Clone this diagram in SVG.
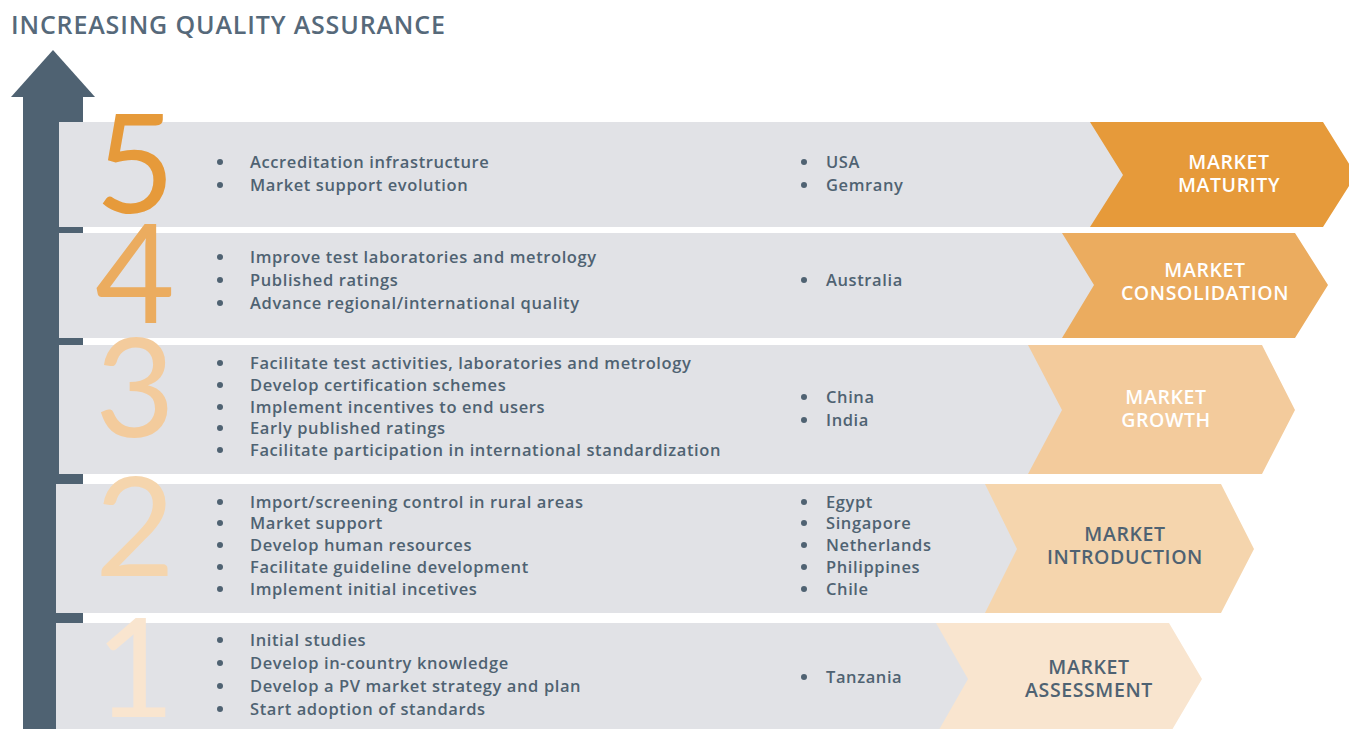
<svg xmlns="http://www.w3.org/2000/svg" width="1349" height="729" viewBox="0 0 1349 729">
<style>
.title{font-family:"Open Sans","Liberation Sans",sans-serif;font-weight:600;font-size:25px;fill:#56697a;letter-spacing:0.85px}
.band{fill:#e1e2e6}
.num{font-family:"Lato","Liberation Sans",sans-serif;font-weight:400;font-size:138px;text-anchor:middle}
.b{font-family:"Open Sans","Liberation Sans",sans-serif;font-weight:600;font-size:16.5px;fill:#4f6272;letter-spacing:0.6px}
.dot{fill:#4f6272}
.lbl{font-family:"Open Sans","Liberation Sans",sans-serif;font-weight:600;font-size:19.5px;text-anchor:middle;letter-spacing:0.6px}
.w{fill:#ffffff}
.d{fill:#4f6272}
</style>
<rect width="1349" height="729" fill="#ffffff"/>
<text class="title" x="11" y="34">INCREASING QUALITY ASSURANCE</text>
<g id="arrow">
<polygon points="11,97 53,50 95,97" fill="#4f6272"/>
<rect x="23" y="96" width="60" height="633" fill="#4f6272"/>
</g>
<g id="stage5">
<rect class="band" x="59" y="122" width="1070" height="105"/>
<polygon points="1090,122 1323,122 1356,175 1323,227 1090,227 1123,175" fill="#e69a3a"/>
<text class="num" x="135" y="213" fill="#e69a3a">5</text>
<g class="dot"><circle cx="220" cy="162" r="3"/><circle cx="220" cy="185" r="3"/><circle cx="804" cy="162" r="3"/><circle cx="804" cy="185" r="3"/></g>
<text class="b"><tspan x="250" y="168">Accreditation infrastructure</tspan><tspan x="250" y="191">Market support evolution</tspan></text>
<text class="b"><tspan x="826" y="168">USA</tspan><tspan x="826" y="191">Gemrany</tspan></text>
<text class="lbl w"><tspan x="1229" y="169">MARKET</tspan><tspan x="1229" y="192">MATURITY</tspan></text>
</g>
<g id="stage4">
<rect class="band" x="59" y="233" width="1040" height="105"/>
<polygon points="1062,233 1295,233 1328,285 1295,338 1062,338 1094,285" fill="#ebac5f"/>
<text class="num" x="135" y="323" fill="#ebac5f">4</text>
<g class="dot"><circle cx="220" cy="257" r="3"/><circle cx="220" cy="280" r="3"/><circle cx="220" cy="303" r="3"/><circle cx="804" cy="280" r="3"/></g>
<text class="b"><tspan x="250" y="263">Improve test laboratories and metrology</tspan><tspan x="250" y="286">Published ratings</tspan><tspan x="250" y="309">Advance regional/international quality</tspan></text>
<text class="b"><tspan x="826" y="286">Australia</tspan></text>
<text class="lbl w"><tspan x="1205" y="277">MARKET</tspan><tspan x="1205" y="300">CONSOLIDATION</tspan></text>
</g>
<g id="stage3">
<rect class="band" x="59" y="345" width="1010" height="129"/>
<polygon points="1028,345 1262,345 1295,410 1262,474 1028,474 1062,410" fill="#f3cb9c"/>
<text class="num" x="135" y="437" fill="#f3cb9c">3</text>
<g class="dot"><circle cx="220" cy="363" r="3"/><circle cx="220" cy="385" r="3"/><circle cx="220" cy="407" r="3"/><circle cx="220" cy="428" r="3"/><circle cx="220" cy="450" r="3"/><circle cx="804" cy="397" r="3"/><circle cx="804" cy="420" r="3"/></g>
<text class="b"><tspan x="250" y="369">Facilitate test activities, laboratories and metrology</tspan><tspan x="250" y="391">Develop certification schemes</tspan><tspan x="250" y="413">Implement incentives to end users</tspan><tspan x="250" y="434">Early published ratings</tspan><tspan x="250" y="456">Facilitate participation in international standardization</tspan></text>
<text class="b"><tspan x="826" y="403">China</tspan><tspan x="826" y="426">India</tspan></text>
<text class="lbl w"><tspan x="1166" y="404">MARKET</tspan><tspan x="1166" y="427">GROWTH</tspan></text>
</g>
<g id="stage2">
<rect class="band" x="56" y="484" width="970" height="129"/>
<polygon points="985,484 1221,484 1254,549 1221,613 985,613 1017,549" fill="#f5d5ad"/>
<text class="num" x="135" y="576" fill="#f5d5ad">2</text>
<g class="dot"><circle cx="220" cy="502" r="3"/><circle cx="220" cy="523" r="3"/><circle cx="220" cy="545" r="3"/><circle cx="220" cy="567" r="3"/><circle cx="220" cy="589" r="3"/><circle cx="804" cy="502" r="3"/><circle cx="804" cy="523" r="3"/><circle cx="804" cy="545" r="3"/><circle cx="804" cy="567" r="3"/><circle cx="804" cy="589" r="3"/></g>
<text class="b"><tspan x="250" y="508">Import/screening control in rural areas</tspan><tspan x="250" y="529">Market support</tspan><tspan x="250" y="551">Develop human resources</tspan><tspan x="250" y="573">Facilitate guideline development</tspan><tspan x="250" y="595">Implement initial incetives</tspan></text>
<text class="b"><tspan x="826" y="508">Egypt</tspan><tspan x="826" y="529">Singapore</tspan><tspan x="826" y="551">Netherlands</tspan><tspan x="826" y="573">Philippines</tspan><tspan x="826" y="595">Chile</tspan></text>
<text class="lbl d"><tspan x="1125" y="541">MARKET</tspan><tspan x="1125" y="564">INTRODUCTION</tspan></text>
</g>
<g id="stage1">
<rect class="band" x="56" y="623" width="920" height="112"/>
<polygon points="936,623 1169,623 1202,679 1169,735 936,735 968,679" fill="#f9e5cf"/>
<text class="num" x="135" y="717" fill="#f9e5cf">1</text>
<g class="dot"><circle cx="220" cy="640" r="3"/><circle cx="220" cy="663" r="3"/><circle cx="220" cy="686" r="3"/><circle cx="220" cy="709" r="3"/><circle cx="804" cy="677" r="3"/></g>
<text class="b"><tspan x="250" y="646">Initial studies</tspan><tspan x="250" y="669">Develop in-country knowledge</tspan><tspan x="250" y="692">Develop a PV market strategy and plan</tspan><tspan x="250" y="715">Start adoption of standards</tspan></text>
<text class="b"><tspan x="826" y="683">Tanzania</tspan></text>
<text class="lbl d"><tspan x="1089" y="674">MARKET</tspan><tspan x="1089" y="697">ASSESSMENT</tspan></text>
</g>
<g id="connectors"></g>
</svg>
